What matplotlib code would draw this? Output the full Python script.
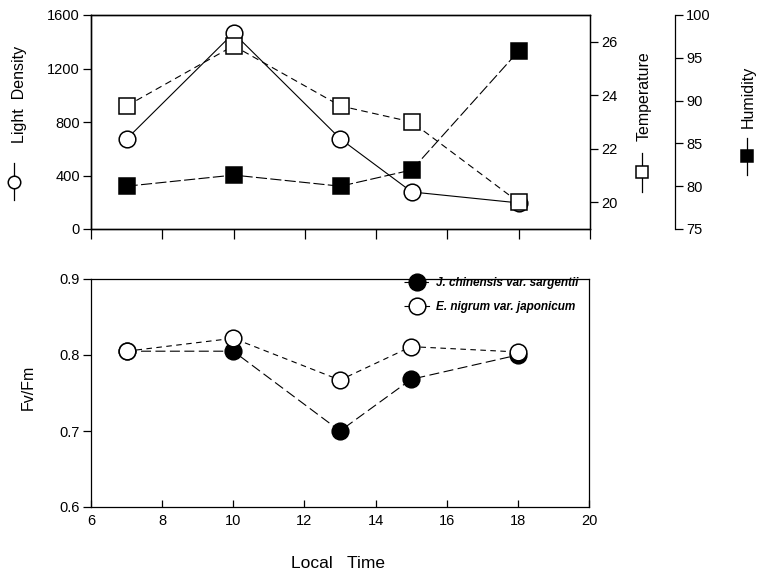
import numpy as np
import matplotlib
matplotlib.use("Agg")
import matplotlib.pyplot as plt
from matplotlib.lines import Line2D

plt.rcParams['font.family'] = ['Liberation Sans', 'DejaVu Sans']

# local time (h)
hours = [7, 10, 13, 15, 18]

# top panel
light = [673, 1465, 673, 277, 195]        # light density
temperature = [23.6, 25.85, 23.6, 23.0, 20.0]
humidity = [80.0, 81.3, 80.0, 81.9, 95.8]

# bottom panel, Fv/Fm
fvfm_juni = [0.805, 0.805, 0.700, 0.768, 0.800]
fvfm_emp = [0.805, 0.822, 0.767, 0.811, 0.804]
species = ["J. chinensis var. sargentii", "E. nigrum var. japonicum"]

W, H = 759, 577
fig = plt.figure(figsize=(W / 100, H / 100), dpi=100)

def fx(px):
    return px / W

def fy(py):
    return 1 - py / H

tick_fs = 10.5
lab_fs = 11.5
ms = 12

# ---- top panel ----
ax1 = fig.add_axes([fx(91), fy(229), fx(590) - fx(91), fy(15) - fy(229)])
ax1.plot(hours, light, '-', color='k', lw=0.8, marker='o', ms=ms,
         mfc='white', mec='k', mew=1.1, zorder=3)
ax1.set_xlim(6, 20)
ax1.set_ylim(0, 1600)
ax1.set_xticks(np.arange(6, 21, 2))
ax1.set_xticklabels([])
ax1.set_yticks([0, 400, 800, 1200, 1600])
ax1.tick_params(direction='out', length=6, width=0.9, labelsize=tick_fs, pad=2)
ax1.tick_params(axis='x', length=7)

ax2 = ax1.twinx()
ax2.plot(hours, temperature, color='k', lw=0.8, ls=(0, (6, 4)), marker='s',
         ms=ms, mfc='white', mec='k', mew=1.1, zorder=3)
ax2.set_ylim(19, 27)
ax2.set_yticks([20, 22, 24, 26])
ax2.tick_params(direction='out', length=6, width=0.9, labelsize=tick_fs, pad=2)

ax3 = ax1.twinx()
ax3.spines['right'].set_position(('axes', 1.17))
ax3.plot(hours, humidity, color='k', lw=0.8, ls=(0, (10, 3)), marker='s',
         ms=ms, mfc='black', mec='k', mew=1.1, zorder=3)
ax3.set_ylim(75, 100)
ax3.set_yticks([75, 80, 85, 90, 95, 100])
ax3.tick_params(direction='out', length=6, width=0.9, labelsize=tick_fs, pad=2)

for a in (ax1, ax2, ax3):
    for s in a.spines.values():
        s.set_linewidth(0.9)

# ---- bottom panel ----
ax4 = fig.add_axes([fx(91), fy(507), fx(589) - fx(91), fy(279) - fy(507)])
ax4.plot(hours, fvfm_juni, color='k', lw=0.8, ls=(0, (9, 4)), marker='o',
         ms=ms, mfc='black', mec='k', mew=1.1, zorder=3, label=species[0])
ax4.plot(hours, fvfm_emp, color='k', lw=0.8, ls=(0, (5, 4)), marker='o',
         ms=ms, mfc='white', mec='k', mew=1.1, zorder=4, label=species[1])
ax4.set_xlim(6, 20)
ax4.set_ylim(0.6, 0.9)
ax4.set_xticks(np.arange(6, 21, 2))
ax4.set_yticks([0.6, 0.7, 0.8, 0.9])
ax4.set_yticklabels(["0.6", "0.7", "0.8", "0.9"])
ax4.tick_params(axis='x', direction='in', length=5, width=0.9, labelsize=tick_fs, pad=5)
ax4.tick_params(axis='y', direction='out', length=6, width=0.9, labelsize=tick_fs, pad=2)
for s in ax4.spines.values():
    s.set_linewidth(0.9)
leg = ax4.legend(loc='upper right', bbox_to_anchor=(1.0, 1.055), frameon=False,
                 handlelength=2.2, handletextpad=0.5, labelspacing=1.0,
                 prop={'style': 'italic', 'size': 8.5, 'weight': 'bold'},
                 markerscale=1.0)

# ---- axis titles with symbol keys ----
fig.text(fx(20), fy(94), "Light  Density", rotation=90, ha='center', va='center',
         fontsize=lab_fs)
fig.text(fx(644), fy(96), "Temperature", rotation=90, ha='center', va='center',
         fontsize=lab_fs)
fig.text(fx(748), fy(97), "Humidity", rotation=90, ha='center', va='center',
         fontsize=lab_fs)
fig.text(fx(28), fy(387), "Fv/Fm", rotation=90, ha='center', va='center',
         fontsize=lab_fs)
fig.text(fx(338), fy(563), "Local   Time", ha='center', va='center', fontsize=12.5)

keys = [(14, 163, 200, 'o', 'white'), (642, 153, 192, 's', 'white'),
        (747, 138, 175, 's', 'black')]
for kx, ky0, ky1, mk, fc in keys:
    fig.add_artist(Line2D([fx(kx), fx(kx)], [fy(ky0), fy(ky1)], color='k', lw=0.9,
                          transform=fig.transFigure))
    fig.add_artist(Line2D([fx(kx)], [fy((ky0 + ky1) / 2)], marker=mk, ms=9,
                          mfc=fc, mec='k', mew=1.1, ls='none',
                          transform=fig.transFigure))

fig.savefig("out.png", dpi=100)
